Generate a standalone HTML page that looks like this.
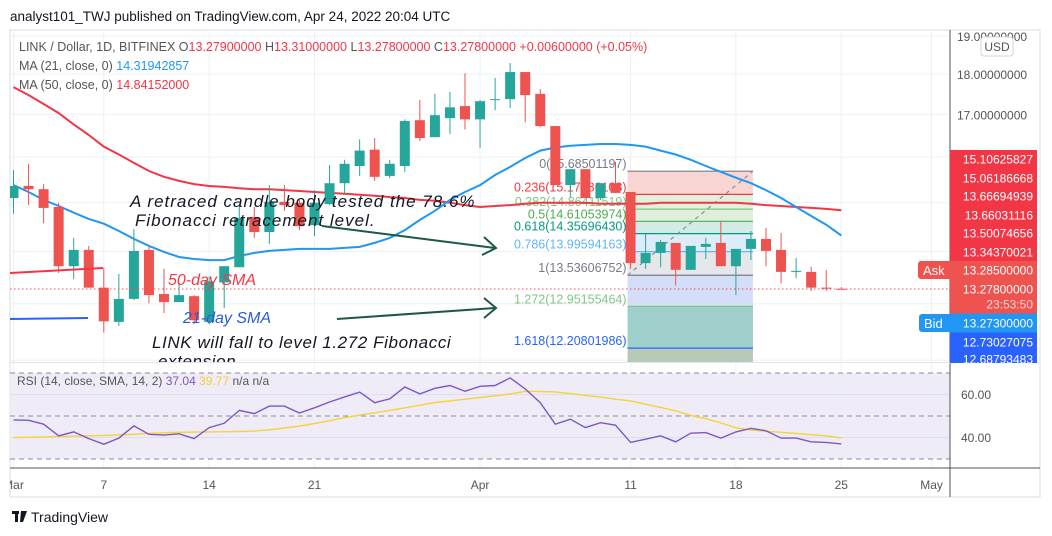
<!DOCTYPE html>
<html><head><meta charset="utf-8"><style>
body{margin:0;background:#fff;width:1052px;height:536px;overflow:hidden;font-family:"Liberation Sans",sans-serif}
svg{display:block}
</style></head><body>
<svg id="chart" width="1052" height="536" viewBox="0 0 1052 536" xmlns="http://www.w3.org/2000/svg" font-family="Liberation Sans, sans-serif">
<defs>
<clipPath id="pc"><rect x="10" y="30" width="940" height="332"/></clipPath>
<clipPath id="tc"><rect x="10" y="468" width="940" height="30"/></clipPath>
</defs>
<rect x="0" y="0" width="1052" height="536" fill="#fff"/>
<text x="10" y="21" font-size="13.5" fill="#131722">analyst101_TWJ published on TradingView.com, Apr 24, 2022 20:04 UTC</text>
<rect x="10" y="30" width="1030" height="467" fill="#fff" stroke="#e6e8ee" stroke-width="1.5"/>
<rect x="10" y="373" width="940" height="86" fill="#efecf8"/>
<g id="grid"></g>
<g id="fib" clip-path="url(#pc)"></g>
<g id="lines" clip-path="url(#pc)"></g>
<g id="candles" clip-path="url(#pc)"></g>
<line x1="10" y1="289" x2="950" y2="289" stroke="#ef5350" stroke-dasharray="1.5,2.5" stroke-width="1"/>
<g id="rsi"></g>
<!-- annotations -->
<g font-style="italic" clip-path="url(#pc)">
<line x1="10" y1="273" x2="103" y2="268" stroke="#f23645" stroke-width="2"/>
<line x1="10" y1="319" x2="88" y2="318" stroke="#2962ff" stroke-width="2"/>
<text x="130" y="207" font-size="17" fill="#131722" letter-spacing="1">A retraced candle body tested the 78.6%</text>
<text x="135" y="226" font-size="17" fill="#131722" letter-spacing="1">Fibonacci retracement level.</text>
<text x="168" y="285" font-size="16" fill="#f23645">50-day SMA</text>
<text x="183" y="323" font-size="16" fill="#2a5bd7">21-day SMA</text>
<text x="152" y="348" font-size="17" fill="#131722" letter-spacing="0.6">LINK will fall to level 1.272 Fibonacci</text>
<text x="158" y="367" font-size="17" fill="#131722" letter-spacing="0.6">extension</text>
<g stroke="#1d5a45" stroke-width="2" fill="none">
<line x1="322" y1="226" x2="495" y2="248"/><polyline points="484,237 496,248 482,255"/></g>
<g stroke="#1d5a45" stroke-width="2" fill="none">
<line x1="337" y1="319" x2="495" y2="308"/><polyline points="484,298 496,308 484,318"/></g>
</g>
<!-- legend -->
<g font-size="12.5">
<text x="19" y="51" fill="#555"><tspan>LINK / Dollar, 1D, BITFINEX  O</tspan><tspan fill="#f23645">13.27900000</tspan><tspan> H</tspan><tspan fill="#f23645">13.31000000</tspan><tspan> L</tspan><tspan fill="#f23645">13.27800000</tspan><tspan> C</tspan><tspan fill="#f23645">13.27800000 +0.00600000 (+0.05%)</tspan></text>
<text x="19" y="70" fill="#555">MA (21, close, 0)  <tspan fill="#2196f3">14.31942857</tspan></text>
<text x="19" y="89" fill="#555">MA (50, close, 0)  <tspan fill="#f23645">14.84152000</tspan></text>
<text x="17" y="385" font-size="12" fill="#555">RSI (14, close, SMA, 14, 2)  <tspan fill="#7e57c2">37.04</tspan>  <tspan fill="#f5cf3a">39.77</tspan>  n/a  n/a</text>
</g>
<!-- axes -->
<line x1="950" y1="30" x2="950" y2="497" stroke="#50535e" stroke-width="1"/>
<line x1="10" y1="362.5" x2="1040" y2="362.5" stroke="#e0e3eb"/>
<line x1="10" y1="468" x2="1040" y2="468" stroke="#50535e" stroke-width="1"/>
<g id="paxis" font-size="12" fill="#555"></g>
<rect x="981" y="37" width="32" height="19" rx="3" fill="#fff" stroke="#d1d4dc"/>
<text x="997" y="51" font-size="12" fill="#555" text-anchor="middle">USD</text>
<g id="labels" font-size="12" fill="#fff"></g>
<text x="961" y="399" font-size="12" fill="#555">60.00</text>
<text x="961" y="442" font-size="12" fill="#555">40.00</text>
<g id="taxis" clip-path="url(#tc)" font-size="12" fill="#555"></g>
<g>
<rect x="12" y="511" width="7" height="3" fill="#131722"/><rect x="15" y="511" width="3" height="11" fill="#131722"/>
<polygon points="21,511 27,511 23,522 20,522" fill="#131722"/>
<text x="31" y="522" font-size="14" fill="#131722">TradingView</text>
</g>
</svg>
<script>
const opens=[15.10,15.36,15.29,14.91,13.71,14.03,13.30,12.67,13.09,14.03,13.18,13.03,13.14,12.67,13.40,13.69,14.70,14.39,15.02,15.00,14.53,14.97,15.42,15.80,16.17,15.58,15.80,16.86,16.46,16.91,17.20,16.88,17.35,17.37,18.05,17.50,16.72,15.38,15.73,15.10,15.42,15.23,13.77,13.97,14.17,13.64,14.09,14.17,13.71,14.05,14.25,14.03,13.60,13.60,13.30,13.279];
const highs=[15.71,15.85,15.40,15.00,14.27,14.11,13.68,13.56,14.45,14.09,13.66,13.39,13.16,13.51,13.71,14.95,14.91,15.38,15.38,15.06,15.27,15.82,15.94,16.41,16.44,15.94,16.88,17.35,17.50,17.55,18.02,17.35,17.90,18.28,18.05,17.62,16.72,15.73,15.73,15.42,15.89,15.23,14.35,14.23,14.17,14.11,14.27,14.60,14.05,14.41,14.47,14.37,13.87,13.70,13.64,13.31];
const lows=[14.77,14.95,14.57,13.58,13.46,13.30,12.48,12.60,13.07,13.01,12.83,13.03,12.63,12.63,12.92,13.69,14.27,14.15,14.83,14.43,14.31,14.95,15.17,15.58,15.47,15.53,15.67,16.37,16.46,16.53,16.64,16.21,17.10,17.15,16.81,16.69,15.38,15.12,15.10,15.06,15.21,13.66,13.66,13.69,13.34,13.64,13.85,13.75,13.16,13.83,13.71,13.38,13.48,13.24,13.24,13.278];
const closes=[15.36,15.29,14.89,13.71,14.03,13.30,12.68,13.09,14.01,13.16,13.03,13.16,12.70,13.42,13.71,14.68,14.39,15.02,14.95,14.51,15.00,15.42,15.85,16.15,15.56,15.85,16.84,16.44,16.98,17.17,16.88,17.32,17.37,18.05,17.47,16.72,15.38,15.73,15.10,15.42,15.21,13.77,13.97,14.19,13.64,14.11,14.15,13.71,14.05,14.25,14.01,13.60,13.62,13.30,13.28,13.278];
const ma21=[15.38,15.23,15.06,14.93,14.79,14.66,14.56,14.41,14.25,14.11,13.99,13.89,13.85,13.83,13.83,13.91,13.97,14.01,14.03,14.05,14.05,14.05,14.07,14.09,14.17,14.27,14.43,14.64,14.83,15.06,15.23,15.38,15.60,15.78,15.98,16.15,16.22,16.26,16.28,16.30,16.30,16.28,16.24,16.15,16.06,15.94,15.80,15.67,15.54,15.42,15.27,15.10,14.91,14.72,14.54,14.32];
const ma50=[17.67,17.47,17.25,17.03,16.76,16.51,16.24,16.06,15.87,15.69,15.56,15.47,15.40,15.36,15.34,15.31,15.29,15.29,15.27,15.25,15.23,15.21,15.19,15.17,15.15,15.12,15.10,15.06,15.04,15.00,14.95,14.91,14.93,14.95,14.98,15.00,15.00,15.00,15.00,14.98,14.98,14.98,14.98,15.00,15.00,15.00,15.00,15.00,15.00,14.98,14.95,14.93,14.91,14.89,14.87,14.84];
const rsiVals=[48.2,48.0,46.2,40.8,42.6,39.5,36.9,39.7,45.4,41.5,41.1,41.7,39.5,44.6,46.6,52.6,51.1,54.6,54.6,51.4,53.8,56.5,58.9,61.1,56.2,58.0,63.5,60.3,62.9,64.2,61.5,63.8,64.2,67.7,62.6,56.2,46.2,48.5,44.6,46.9,45.7,37.7,39.2,40.8,38.0,42.0,42.3,39.7,42.6,44.3,43.1,39.7,39.7,38.0,37.7,37.0];
const rsiSma=[40.0,40.1,40.3,40.5,40.6,40.8,41.0,41.2,41.5,41.9,42.2,42.4,42.5,42.6,42.7,42.8,43.0,43.6,44.4,45.3,46.5,47.8,49.2,50.5,51.5,52.6,53.8,55.0,56.3,57.0,57.8,58.6,59.4,60.3,61.5,61.4,61.2,60.4,59.6,58.8,57.8,57.0,55.5,54.0,52.4,50.3,48.8,46.8,44.5,43.5,42.9,42.4,41.9,41.3,40.8,39.8];
const tickLabels=["Mar","7","14","21","Apr","11","18","25","May"];
const tickDays=[0,6,13,20,31,41,48,55,61];
const priceTicks=[19,18,17,16,15,14,13,12];
const priceTickLabels=["19.00000000","18.00000000","17.00000000"];
const fibRatios=["0","0.236","0.382","0.5","0.618","0.786","1","1.272","1.618"];
const fibPrices=[15.68501197,15.17786108,14.86411519,14.61053974,14.35696430,13.99594163,13.53606752,12.95155464,12.20801986];
const fibStartDay=41, fibEndDay=49;

const NS="http://www.w3.org/2000/svg";
function X(i){return 13.5+15.05*i;}
function Y(p){return 74+Math.log(18/p)*706;}
function RY(v){return 416-(v-50)*2.15;}
function mk(tag,attrs,parent){const e=document.createElementNS(NS,tag);for(const k in attrs)e.setAttribute(k,attrs[k]);parent.appendChild(e);return e;}

// grid
const grid=document.getElementById('grid');
priceTicks.forEach(p=>{const l=mk('line',{x1:10,x2:950,y1:Y(p),y2:Y(p),stroke:'#eef0f4'},grid);

});
tickDays.forEach(d=>{const l=mk('line',{x1:X(d),x2:X(d),y1:30,y2:468,stroke:'#eef0f4'},grid);

});
[70,50,30].forEach(v=>{const l=mk('line',{x1:10,x2:950,y1:RY(v),y2:RY(v),stroke:'#8a8d96','stroke-dasharray':'5,4'},grid);

});
[60,40].forEach(v=>{const l=mk('line',{x1:10,x2:950,y1:RY(v),y2:RY(v),stroke:'#dcdff0'},grid);

});

// fib
const fib=document.getElementById('fib');
const fx1=X(fibStartDay)-3,fx2=X(fibEndDay)+2;
const fills=['#f9d6d4','#e2f1de','#e0efdb','#d3ebe5','#dcecf9','#e6e7ea','#d5def9','#9ecfca','#b7c9b7'];
const lcols=['#787b86','#f23645','#81c784','#4caf50','#089981','#64b5f6','#787b86','#81c784','#2962ff'];
for(let k=0;k<fibPrices.length;k++){
  const yTop=Y(fibPrices[k]);const yBot=k<fibPrices.length-1?Y(fibPrices[k+1]):362;
  const r=mk('rect',{x:fx1,y:yTop,width:fx2-fx1,height:yBot-yTop,fill:fills[k]},fib);
  
  
}
for(let k=0;k<fibPrices.length;k++){
  const yy=Y(fibPrices[k]);
  const l=mk('line',{x1:fx1,x2:fx2,y1:yy,y2:yy,stroke:lcols[k],'stroke-width':1.2},fib);
  
  
  const t=mk('text',{x:fx1-1,y:yy-3,'text-anchor':'end','font-size':12.5,fill:lcols[k]},fib);
  
  
  t.textContent=fibRatios[k]+'('+fibPrices[k].toFixed(8)+')';
}
const dl=mk('line',{x1:fx1,y1:Y(fibPrices[6]),x2:fx2,y2:Y(fibPrices[0]),stroke:'#8a8d96','stroke-dasharray':'4,4','stroke-width':1.2},fib);



// MA lines
const lines=document.getElementById('lines');
function path(arr,fy){return arr.map((v,i)=>(i?'L':'M')+X(i).toFixed(1)+','+fy(v).toFixed(1)).join(' ');}
const m50=mk('path',{d:path(ma50,Y),fill:'none',stroke:'#f23645','stroke-width':2},lines);


const m21=mk('path',{d:path(ma21,Y),fill:'none',stroke:'#2196f3','stroke-width':2},lines);



// candles
const cg=document.getElementById('candles');
for(let i=0;i<opens.length;i++){
  const up=closes[i]>=opens[i];const col=up?'#26a69a':'#ef5350';
  const g=mk('g',{},cg);
  
  
  mk('line',{x1:X(i),x2:X(i),y1:Y(highs[i]),y2:Y(lows[i]),stroke:col,'stroke-width':1},g);
  const yt=Y(Math.max(opens[i],closes[i])),yb=Y(Math.min(opens[i],closes[i]));
  mk('rect',{x:X(i)-5,y:yt,width:10,height:Math.max(1,yb-yt),fill:col},g);
}

// RSI
const rg=document.getElementById('rsi');
const rs=mk('path',{d:path(rsiSma,RY),fill:'none',stroke:'#f5d33a','stroke-width':1.4},rg);


const rl=mk('path',{d:path(rsiVals,RY),fill:'none',stroke:'#7e57c2','stroke-width':1.4},rg);



// price axis
const pa=document.getElementById('paxis');
priceTickLabels.forEach((s,k)=>{const t=mk('text',{x:957,y:Y(priceTicks[k])+5},pa);


t.textContent=s;});

// stacked price labels
const lb=document.getElementById('labels');
const stack=[["15.10625827",159,'#f23645'],["15.06186668",178,'#f23645'],["13.66694939",196,'#f23645'],["13.66031116",215,'#f23645'],["13.50074656",233,'#f23645'],["13.34370021",252,'#f23645'],["13.28500000",270,'#ef5350'],["13.27800000",289,'#ef5350'],["23:53:50",304,'#ef5350'],["13.27300000",323,'#2196f3'],["12.73027075",342,'#2962ff'],["12.68793483",359,'#2962ff']];
let prevBottom=150;
stack.forEach((s,k)=>{
  const bottom=k<stack.length-1?(s[1]+stack[k+1][1])/2:363;
  const r=mk('rect',{x:950,y:prevBottom,width:87,height:bottom-prevBottom,fill:s[2]},lb);
  
  
  prevBottom=bottom;
});
stack.forEach(s=>{const t=mk('text',{x:1033,y:s[1]+4.5,'text-anchor':'end',fill:s[0]==='23:53:50'?'#fbd3d2':'#fff'},lb);


t.textContent=s[0];});
const ask=mk('rect',{x:918,y:261,width:34,height:18,rx:3,fill:'#ef5350'},lb);


const at=mk('text',{x:923,y:275,'font-size':13},lb);at.textContent='Ask';
const bid=mk('rect',{x:919,y:314,width:33,height:18,rx:3,fill:'#2196f3'},lb);


const bt=mk('text',{x:924,y:328,'font-size':13},lb);bt.textContent='Bid';

// time axis
const ta=document.getElementById('taxis');
tickLabels.forEach((s,k)=>{const t=mk('text',{x:X(tickDays[k]),y:489,'text-anchor':'middle'},ta);


t.textContent=s;});
</script>
</body></html>
